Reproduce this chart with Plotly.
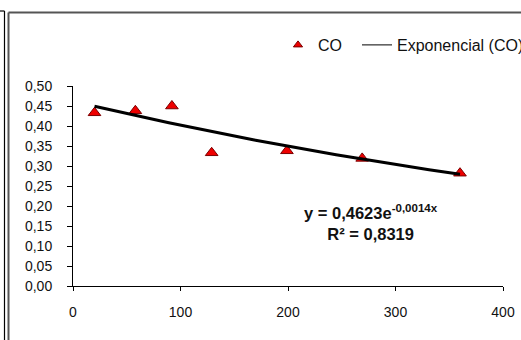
import numpy as np
import plotly.graph_objects as go

# ---- data ----
x_vals = [20, 58, 92, 129, 199, 269, 360]
co_vals = [0.433, 0.438, 0.450, 0.333, 0.338, 0.319, 0.282]
fit_a = 0.4623
fit_b = -0.0014
fit_r2 = 0.8319
x_ticks = [0, 100, 200, 300, 400]
y_ticks = [0.00, 0.05, 0.10, 0.15, 0.20, 0.25, 0.30, 0.35, 0.40, 0.45, 0.50]

W, H = 521, 340
ML, MR, MT, MB = 73, 18, 86, 54
PW, PH = W - ML - MR, H - MT - MB


def px(xp):
    return (xp - ML) / PW


def py(yp):
    return (H - MB - yp) / PH


def comma(v, nd):
    return f"{v:.{nd}f}".replace(".", ",")


fit_x = np.linspace(min(x_vals), max(x_vals), 60)
fit_y = fit_a * np.exp(fit_b * fit_x)

FONT = "Liberation Sans, Arial, sans-serif"
TXT = "#111"
RED = "#ee0000"
DARKRED = "#7a0000"

fig = go.Figure()
fig.add_trace(go.Scatter(
    x=x_vals, y=co_vals, mode="markers", name="CO", showlegend=False,
    marker=dict(symbol="triangle-up", size=11, color=RED,
                line=dict(color=DARKRED, width=1)),
))
fig.add_trace(go.Scatter(
    x=fit_x, y=fit_y, mode="lines", name="Exponencial (CO)", showlegend=False,
    line=dict(color="black", width=3),
))
# legend entries (small symbols as in the reference)
fig.add_trace(go.Scatter(
    x=[None], y=[None], mode="markers", name="CO", legendwidth=34,
    marker=dict(symbol="triangle-up", size=8, color=RED, line=dict(color=DARKRED, width=1)),
))
fig.add_trace(go.Scatter(
    x=[None], y=[None], mode="lines", name="Exponencial (CO)",
    line=dict(color="black", width=1),
))

eq_text = (f"<b>y = {comma(fit_a, 4)}e<sup>{comma(fit_b, 4)}x</sup></b><br>"
           f"<b>R² = {comma(fit_r2, 4)}</b>")

fig.update_layout(
    width=W, height=H,
    margin=dict(l=ML, r=MR, t=MT, b=MB, autoexpand=False),
    paper_bgcolor="white", plot_bgcolor="white",
    font=dict(family=FONT, size=14, color=TXT),
    showlegend=True,
    legend=dict(orientation="h", x=px(278), xanchor="left", y=py(45), yanchor="middle",
                font=dict(size=16, family=FONT, color=TXT), bgcolor="rgba(0,0,0,0)",
                itemwidth=30),
    xaxis=dict(range=[0, 400], tickvals=x_ticks, ticktext=[str(v) for v in x_ticks],
               showgrid=False, zeroline=False, showline=True, linecolor="black", linewidth=1,
               ticks="outside", ticklen=4, tickcolor="black", ticklabelstandoff=9,
               tickfont=dict(size=14, family=FONT, color=TXT), fixedrange=True),
    yaxis=dict(range=[0, 0.5], tickvals=y_ticks, ticktext=[comma(v, 2) for v in y_ticks],
               showgrid=False, zeroline=False, showline=True, linecolor="black", linewidth=1,
               ticks="outside", ticklen=5, tickcolor="black", ticklabelstandoff=12,
               tickfont=dict(size=14, family=FONT, color=TXT), fixedrange=True),
    annotations=[dict(
        xref="paper", yref="paper", x=px(371), y=py(222), xanchor="center", yanchor="middle",
        text=eq_text,
        showarrow=False, font=dict(size=16.5, family=FONT, color=TXT), align="center",
    )],
    shapes=[
        # gray chart-area frame
        dict(type="line", xref="paper", yref="paper", x0=px(8.5), x1=px(530), y0=py(12.5), y1=py(12.5),
             line=dict(color="#555", width=2)),
        dict(type="line", xref="paper", yref="paper", x0=px(8.5), x1=px(8.5), y0=py(12.5), y1=py(345),
             line=dict(color="#555", width=2)),
        # neighbouring frame edge
        dict(type="line", xref="paper", yref="paper", x0=px(-5), x1=px(4.5), y0=py(11), y1=py(11),
             line=dict(color="black", width=1.2)),
        dict(type="line", xref="paper", yref="paper", x0=px(4.5), x1=px(4.5), y0=py(11), y1=py(345),
             line=dict(color="black", width=1.2)),
    ],
)

fig.write_html("out.html", config={"displayModeBar": False},
               post_script="document.body.style.margin='0';document.body.style.overflow='hidden';")
